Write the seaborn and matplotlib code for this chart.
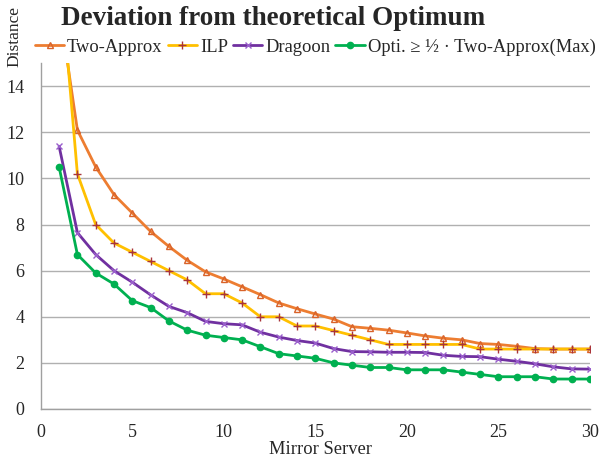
import numpy as np
import pandas as pd
import matplotlib
matplotlib.use("Agg")
import matplotlib.pyplot as plt
from matplotlib.ticker import MultipleLocator
import seaborn as sns

servers = list(range(1, 31))
two_approx = [17.5, 12.1, 10.5, 9.3, 8.5, 7.7, 7.05, 6.45, 5.95, 5.64, 5.3, 4.96, 4.6, 4.35, 4.12, 3.9,
              3.57, 3.5, 3.42, 3.3, 3.17, 3.07, 3.0, 2.84, 2.8, 2.72, 2.62, 2.6, 2.6, 2.6]
ilp = [19.5, 10.2, 8.0, 7.2, 6.8, 6.4, 6.0, 5.6, 5.0, 5.0, 4.6, 4.0, 4.0, 3.6, 3.6, 3.4,
       3.2, 3.0, 2.8, 2.8, 2.8, 2.8, 2.8, 2.6, 2.6, 2.6, 2.6, 2.6, 2.6, 2.6]
dragoon = [11.4, 7.65, 6.7, 6.0, 5.5, 4.95, 4.45, 4.18, 3.8, 3.7, 3.65, 3.33, 3.12, 2.97, 2.86, 2.62,
           2.49, 2.48, 2.46, 2.46, 2.45, 2.33, 2.28, 2.27, 2.16, 2.07, 1.96, 1.83, 1.74, 1.73]
opti = [10.5, 6.7, 5.9, 5.42, 4.7, 4.4, 3.82, 3.42, 3.2, 3.1, 3.0, 2.7, 2.4, 2.3, 2.2, 2.0,
        1.9, 1.8, 1.8, 1.7, 1.7, 1.7, 1.6, 1.5, 1.4, 1.4, 1.4, 1.3, 1.3, 1.3]

labels = ["Two-Approx", "ILP", "Dragoon", "Opti. \u2265 \u00bd \u00b7 Two-Approx(Max)"]
colors = ["#ED7D31", "#FFC000", "#7030A0", "#00B050"]
mcolors = ["#D9632A", "#A9343A", "#9A5FCC", "#00B050"]
markers = ["^", "+", "x", "o"]
msizes = [4, 6, 5, 4.5]

sns.set_theme(style="white")
plt.rcParams['font.family'] = ['Liberation Serif', 'DejaVu Serif']

fig = plt.figure(figsize=(6, 4.58), dpi=100)
ax = fig.add_axes([0.068, 0.107, 0.915, 0.755])

for vals, lab, c, mc, m, ms in zip([two_approx, ilp, dragoon, opti], labels, colors, mcolors, markers, msizes):
    sns.lineplot(x=servers, y=vals, ax=ax, color=c, linewidth=2, marker=m, markersize=ms,
                 markeredgecolor=mc, markerfacecolor=mc if m in ("o",) else "none",
                 markeredgewidth=1, label=lab)

ax.set_xlim(0, 30)
ax.set_ylim(0, 15)
ax.xaxis.set_major_locator(MultipleLocator(5))
ax.xaxis.set_minor_locator(MultipleLocator(1))
ax.yaxis.set_major_locator(MultipleLocator(2))
ax.yaxis.set_minor_locator(MultipleLocator(1))
ax.grid(axis="y", which="major", color="#b0b0b0", linewidth=1)
ax.set_axisbelow(True)
for s in ["top", "right"]:
    ax.spines[s].set_visible(False)
for s in ["left", "bottom"]:
    ax.spines[s].set_color("#a0a0a0")
    ax.spines[s].set_linewidth(1)
ax.tick_params(axis="both", which="both", direction="out", color="#a0a0a0", labelsize=13)
ax.tick_params(axis="both", which="major", length=5, width=1)
ax.tick_params(axis="both", which="minor", length=4, width=1)
ax.tick_params(axis="x", which="major", pad=6)
ax.tick_params(axis="y", which="major", pad=7)

ax.set_xlabel("Mirror Server", fontsize=13.3)
ax.set_ylabel("Distance", fontsize=12.5, rotation=90)
ax.yaxis.set_label_coords(-0.033, 1.078)
ax.xaxis.set_label_coords(0.51, -0.093)

ax.get_legend().remove()
h, l = ax.get_legend_handles_labels()
fig.legend(h, l, loc="center left", bbox_to_anchor=(0.058, 0.897), ncol=4, frameon=False,
           fontsize=13.3, handlelength=1.6, handletextpad=0.15, columnspacing=0.27,
           borderpad=0, borderaxespad=0)

fig.text(0.456, 0.945, "Deviation from theoretical Optimum", ha="center", va="baseline",
         fontsize=19.5, fontweight="bold")

fig.savefig("out.png", dpi=100)
